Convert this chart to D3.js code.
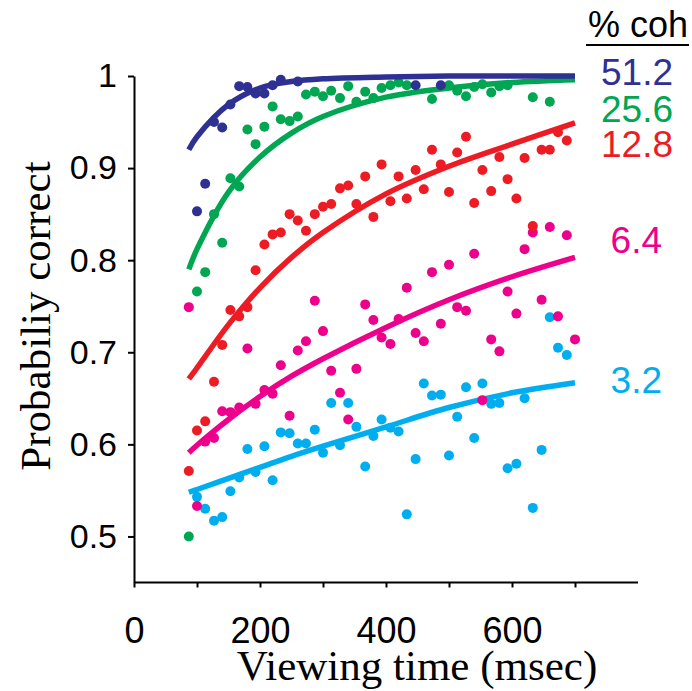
<!DOCTYPE html>
<html>
<head>
<meta charset="utf-8">
<script src="https://cdn.jsdelivr.net/npm/d3@7"></script>
<style>
body { margin: 0; background: #fff; }
</style>
</head>
<body>
<div id="graph"></div>
<script>
var width = 692;
var height = 691;

var fitTimes = [87, 100, 150, 200, 250, 300, 400, 500, 600, 700];
var fit512 = [0.920, 0.934, 0.969, 0.987, 0.994, 0.997, 0.999, 1.000, 1.000, 1.000];
var fit256 = [0.790, 0.812, 0.874, 0.912, 0.938, 0.956, 0.977, 0.987, 0.993, 0.996];
var fit128 = [0.671, 0.683, 0.730, 0.770, 0.803, 0.830, 0.872, 0.902, 0.926, 0.949];
var fit64  = [0.591, 0.599, 0.627, 0.652, 0.674, 0.693, 0.727, 0.757, 0.782, 0.803];
var fit32  = [0.548, 0.551, 0.563, 0.575, 0.587, 0.598, 0.619, 0.640, 0.656, 0.667];

// measured points [msec, probability correct]
var dots512 = [[100,0.853],[113,0.883],[127,0.950],[140,0.944],[153,0.969],[167,0.989],[180,0.988],
  [193,0.981],[207,0.981],[220,0.990],[233,0.996],[260,0.994],[447,0.990],[487,0.990]];
var dots256 = [[87,0.500],[100,0.766],[113,0.787],[127,0.850],[140,0.819],[153,0.889],[167,0.880],
  [180,0.942],[193,0.926],[207,0.945],[220,0.967],[233,0.953],[247,0.951],[260,0.956],[273,0.980],
  [287,0.983],[300,0.978],[313,0.984],[327,0.976],[340,0.989],[353,0.972],[367,0.983],[380,0.976],
  [393,0.987],[407,0.990],[420,0.993],[433,0.990],[473,0.975],[500,0.990],[513,0.984],[527,0.978],
  [540,0.988],[553,0.991],[567,0.982],[580,0.989],[593,0.990],[633,0.977],[660,0.972]];
var dots128 = [[87,0.571],[100,0.615],[113,0.625],[127,0.668],[140,0.708],[153,0.746],[167,0.739],
  [180,0.749],[193,0.789],[207,0.817],[220,0.828],[233,0.830],[247,0.850],[260,0.843],[273,0.832],
  [287,0.850],[300,0.858],[313,0.861],[327,0.878],[340,0.881],[353,0.861],[367,0.891],[380,0.847],
  [393,0.904],[407,0.864],[420,0.891],[433,0.867],[447,0.898],[460,0.877],[473,0.920],[487,0.904],
  [500,0.874],[513,0.917],[527,0.934],[540,0.862],[553,0.898],[567,0.875],[580,0.912],[593,0.888],
  [607,0.867],[620,0.911],[633,0.837],[647,0.920],[660,0.920],[673,0.939],[687,0.930]];
var dots64 = [[87,0.749],[100,0.533],[113,0.603],[127,0.607],[140,0.636],[153,0.635],[167,0.640],
  [180,0.704],[193,0.644],[207,0.659],[220,0.655],[233,0.686],[247,0.631],[260,0.702],[273,0.712],
  [287,0.756],[300,0.723],[313,0.680],[327,0.656],[340,0.627],[353,0.682],[367,0.752],[380,0.735],
  [393,0.716],[407,0.709],[420,0.736],[433,0.770],[447,0.721],[460,0.712],[473,0.787],[487,0.731],
  [500,0.795],[513,0.749],[527,0.745],[540,0.807],[553,0.648],[567,0.714],[580,0.701],[593,0.766],
  [607,0.742],[620,0.812],[633,0.830],[647,0.757],[660,0.836],[673,0.739],[687,0.827],[700,0.714]];
var dots32 = [[100,0.543],[113,0.530],[127,0.517],[140,0.521],[153,0.549],[167,0.564],[180,0.595],
  [193,0.570],[207,0.598],[220,0.561],[233,0.613],[247,0.612],[260,0.601],[273,0.601],[287,0.616],
  [300,0.591],[313,0.645],[327,0.599],[340,0.645],[353,0.619],[367,0.576],[380,0.609],[393,0.627],
  [407,0.618],[420,0.614],[433,0.524],[447,0.584],[460,0.666],[473,0.653],[487,0.654],[500,0.588],
  [513,0.630],[527,0.662],[540,0.607],[553,0.666],[567,0.644],[580,0.645],[593,0.574],[607,0.579],
  [620,0.650],[633,0.531],[647,0.594],[660,0.738],[673,0.705],[687,0.697]];

var cohLabels = ['3.2', '6.4', '12.8', '25.6', '51.2'];
var cohColors = ['#00aeef', '#ec008c', '#ed1c24', '#00a651', '#2e3192'];
var yTicks = [0.5, 0.6, 0.7, 0.8, 0.9, 1];
var xTicks = [0, 100, 200, 300, 400, 500, 600, 700];
var xTickLabels = ['0', '', '200', '', '400', '', '600', ''];

// drawn back to front: 3.2 first, 51.2 on top
var fits = [fit32, fit64, fit128, fit256, fit512];
var dots = [dots32, dots64, dots128, dots256, dots512];
var labelY = [393, 253, 157, 122, 85];
var labelX = [662, 662, 673, 673, 673];

var svg = d3.select('#graph')
    .append('svg')
    .attr('width', width)
    .attr('height', height);

var x = d3.scaleLinear().domain([0, 800]).range([134, 638]);
var y = d3.scaleLinear().domain([0.45, 1]).range([582.5, 76]);

var line = d3.line()
    .x(function(d) { return x(d[0]); })
    .y(function(d) { return y(d[1]); })
    .curve(d3.curveCatmullRom.alpha(0.5));

fits.forEach(function(fit, i) {
    var g = svg.append('g');
    g.selectAll('circle')
        .data(dots[i])
        .enter()
        .append('circle')
        .attr('cx', function(d) { return x(d[0]); })
        .attr('cy', function(d) { return y(d[1]); })
        .attr('r', 5)
        .attr('fill', cohColors[i]);
    g.append('path')
        .datum(fitTimes.map(function(t, j) { return [t, fit[j]]; }))
        .attr('d', line)
        .attr('fill', 'none')
        .attr('stroke', cohColors[i])
        .attr('stroke-width', 5.5);
    svg.append('text')
        .attr('x', labelX[i])
        .attr('y', labelY[i])
        .attr('text-anchor', 'end')
        .attr('font-family', 'Liberation Sans, Arial, sans-serif')
        .attr('font-size', 37)
        .attr('fill', cohColors[i])
        .text(cohLabels[i]);
});

// legend heading
svg.append('text')
    .attr('x', 688)
    .attr('y', 37)
    .attr('text-anchor', 'end')
    .attr('font-family', 'Liberation Sans, Arial, sans-serif')
    .attr('font-size', 36)
    .text('% coh');
svg.append('line')
    .attr('x1', 586).attr('x2', 689)
    .attr('y1', 45).attr('y2', 45)
    .attr('stroke', '#000')
    .attr('stroke-width', 2);

var yAxis = svg.append('g')
    .attr('transform', 'translate(134,0)')
    .call(d3.axisLeft(y)
        .tickValues(yTicks)
        .tickSize(6)
        .tickSizeOuter(0)
        .tickPadding(11)
        .tickFormat(function(d) { return d === 1 ? '1' : d.toFixed(1); }));

var xAxis = svg.append('g')
    .attr('transform', 'translate(0,582.5)')
    .call(d3.axisBottom(x)
        .tickValues(xTicks)
        .tickSize(5)
        .tickSizeOuter(0)
        .tickPadding(30)
        .tickFormat(function(d, i) { return xTickLabels[i]; }));

// make the x domain line run to 800
xAxis.select('.domain').attr('d', 'M' + x(0) + ',0H' + x(800));

[yAxis, xAxis].forEach(function(a) {
    a.selectAll('path, line').attr('stroke', '#000').attr('stroke-width', 2);
    a.selectAll('text')
        .attr('font-family', 'Liberation Sans, Arial, sans-serif')
        .attr('fill', '#000');
});
yAxis.selectAll('text').attr('font-size', 34);
xAxis.selectAll('text').attr('font-size', 36);

svg.append('text')
    .attr('transform', 'translate(50,316) rotate(-90)')
    .attr('text-anchor', 'middle')
    .attr('font-family', 'Liberation Serif, Times New Roman, serif')
    .attr('font-size', 43)
    .text('Probabiliy correct');

svg.append('text')
    .attr('x', 417)
    .attr('y', 680)
    .attr('text-anchor', 'middle')
    .attr('font-family', 'Liberation Serif, Times New Roman, serif')
    .attr('font-size', 43)
    .text('Viewing time (msec)');
</script>
</body>
</html>
